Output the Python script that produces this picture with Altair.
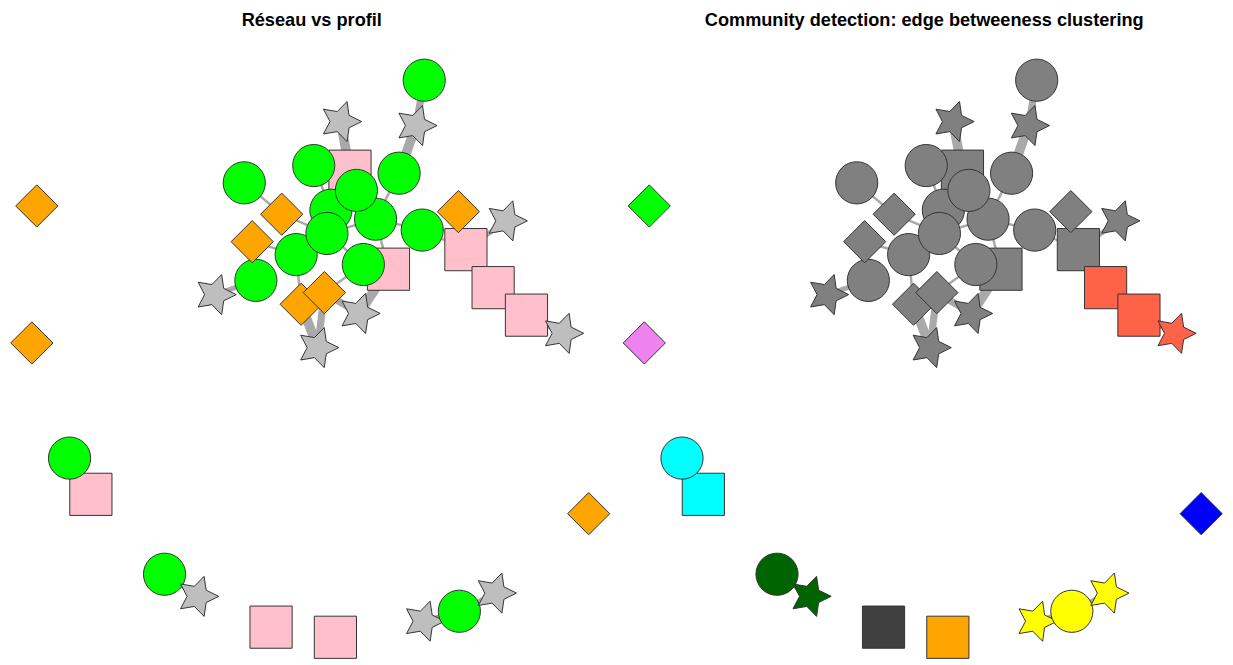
import math
import altair as alt
import pandas as pd

# ---------------- data (layout) ----------------
node_name = ["S_a", "S_b", "S_c", "T_a", "T_b", "C_a", "C_b", "C_c", "C_d", "C_e",
             "C_f", "C_g", "C_h", "C_i", "C_j", "D_a", "D_b", "T_c", "D_c", "D_d",
             "T_d", "T_e", "C_k", "C_l", "D_e", "T_f", "S_d", "S_e", "T_g",
             "D_f", "D_g", "S_f", "C_m", "C_n", "T_h", "S_g", "S_h", "T_i", "C_o", "T_j", "D_h"]
node_type = ["carré", "carré", "carré", "étoile", "étoile", "rond", "rond", "rond", "rond", "rond",
             "rond", "rond", "rond", "rond", "rond", "losange", "losange", "étoile", "losange", "losange",
             "étoile", "étoile", "rond", "rond", "losange", "étoile", "carré", "carré", "étoile",
             "losange", "losange", "carré", "rond", "rond", "étoile", "carré", "carré", "étoile", "rond", "étoile", "losange"]
node_x = [352.5, 391.3, 469.3, 343.0, 419.0, 427.3, 402.0, 316.0, 246.0, 333.3,
          378.3, 298.3, 329.3, 359.0, 257.7, 283.7, 254.0, 216.7, 303.3, 326.7,
          320.0, 361.7, 366.0, 425.3, 461.7, 510.0, 496.7, 530.3, 566.7,
          37.0, 32.0, 91.5, 70.0, 165.7, 199.0, 273.0, 337.8, 426.7, 462.7, 499.0, 593.0]
node_y = [170.0, 268.7, 249.0, 120.0, 124.0, 78.3, 172.0, 164.3, 181.7, 209.3,
          218.3, 254.0, 232.7, 189.3, 280.0, 213.3, 241.0, 294.3, 304.0, 292.3,
          347.7, 313.3, 264.0, 229.3, 210.7, 220.0, 287.3, 315.0, 333.3,
          205.0, 343.0, 495.5, 459.0, 576.0, 598.3, 629.3, 639.5, 623.3, 613.3, 595.0, 515.0]
node_comm = [1, 1, 1, 1, 1, 1, 1, 1, 1, 1,
             1, 1, 1, 1, 1, 1, 1, 1, 1, 1,
             1, 1, 1, 1, 1, 1, 2, 2, 2,
             3, 4, 5, 5, 6, 6, 7, 8, 9, 9, 9, 10]

edge_from = ["C_a", "T_b", "T_a", "C_d", "D_a", "D_b", "D_b", "C_j", "C_g", "D_c",
             "D_d", "D_d", "S_b", "C_k", "C_b", "C_f", "C_f", "C_h", "C_e", "C_i",
             "C_c", "S_a", "C_h", "C_h", "C_l", "D_e", "S_c", "S_c", "S_d", "S_e",
             "C_c", "C_h", "S_f", "C_n", "T_i", "C_o"]
edge_to = ["T_b", "C_b", "S_a", "D_a", "C_h", "C_g", "C_j", "T_c", "D_c", "T_d",
           "T_d", "T_e", "T_e", "D_d", "C_f", "C_l", "S_b", "C_e", "C_i", "C_f",
           "C_e", "C_i", "C_g", "C_f", "S_c", "S_c", "T_f", "S_d", "S_e", "T_g",
           "S_a", "C_k", "C_m", "T_h", "C_o", "T_j"]
edge_weight = [3, 4, 4, 1, 1, 1, 1, 2, 1, 4,
               3, 3, 4, 1, 1, 1, 1, 1, 1, 1,
               1, 1, 1, 1, 1, 1, 2, 2, 2, 2,
               1, 1, 1, 2, 2, 2]

type_domain = ["rond", "carré", "losange", "étoile"]
type_colors = ["#00FF00", "#FFC0CB", "#FFA500", "#BEBEBE"]
comm_domain = [1, 2, 3, 4, 5, 6, 7, 8, 9, 10]
comm_colors = ["#808080", "#FF6347", "#00FF00", "#EE82EE", "#00FFFF",
               "#006400", "#404040", "#FFA500", "#FFFF00", "#0000FF"]

# five-pointed star symbol (unit radius, pointing right)
pts = []
for k in range(10):
    a = math.radians(36 * k)
    r = 1.0 if k % 2 == 0 else 0.5
    pts.append(f"{r * math.cos(a):.4f},{-r * math.sin(a):.4f}")
STAR = "M" + "L".join(pts) + "Z"

nodes = pd.DataFrame({"name": node_name, "type": node_type, "x": node_x,
                      "y": node_y, "comm": node_comm})
pos = nodes.set_index("name")
edges = pd.DataFrame({"src": edge_from, "dst": edge_to, "w": edge_weight})
edges["x"] = edges["src"].map(pos["x"])
edges["y"] = edges["src"].map(pos["y"])
edges["x2"] = edges["dst"].map(pos["x"])
edges["y2"] = edges["dst"].map(pos["y"])

XS = alt.Scale(domain=[8, 608], nice=False, zero=False)
YS = alt.Scale(domain=[8, 657], nice=False, zero=False, reverse=True)


def panel(fill, title):
    e = alt.Chart(edges).mark_rule(color="#A9A9A9", strokeCap="butt").encode(
        x=alt.X("x:Q", scale=XS, axis=None),
        y=alt.Y("y:Q", scale=YS, axis=None),
        x2="x2:Q",
        y2="y2:Q",
        strokeWidth=alt.StrokeWidth("w:Q", scale=alt.Scale(domain=[1, 5], range=[2.5, 12]),
                                    legend=None),
    )
    n = alt.Chart(nodes).mark_point(filled=True, stroke="#333333", strokeWidth=1,
                                     opacity=1, fillOpacity=1, size=1806).encode(
        x=alt.X("x:Q", scale=XS, axis=None),
        y=alt.Y("y:Q", scale=YS, axis=None),
        shape=alt.Shape("type:N", scale=alt.Scale(domain=type_domain,
                                                  range=["circle", "square", "diamond", STAR]),
                        legend=None),
        fill=fill,
    )
    t = alt.Chart(pd.DataFrame({"t": [title]})).mark_text(
        font="Liberation Sans", fontSize=18.3, fontWeight="bold", color="black",
        align="center", baseline="alphabetic").encode(
        text="t:N", x=alt.value(306), y=alt.value(15.5))
    return alt.layer(e, n, t).properties(width=600, height=649)


left = panel(alt.Fill("type:N", scale=alt.Scale(domain=type_domain, range=type_colors), legend=None),
             "Réseau vs profil")
right = panel(alt.Fill("comm:N", scale=alt.Scale(domain=comm_domain, range=comm_colors), legend=None),
              "Community detection: edge betweeness clustering")

chart = alt.hconcat(left, right, spacing=17, bounds="flush").resolve_scale(
    fill="independent").properties(padding=0).configure_view(stroke=None)

chart.save("out.html", embed_options={"renderer": "svg", "actions": False})
